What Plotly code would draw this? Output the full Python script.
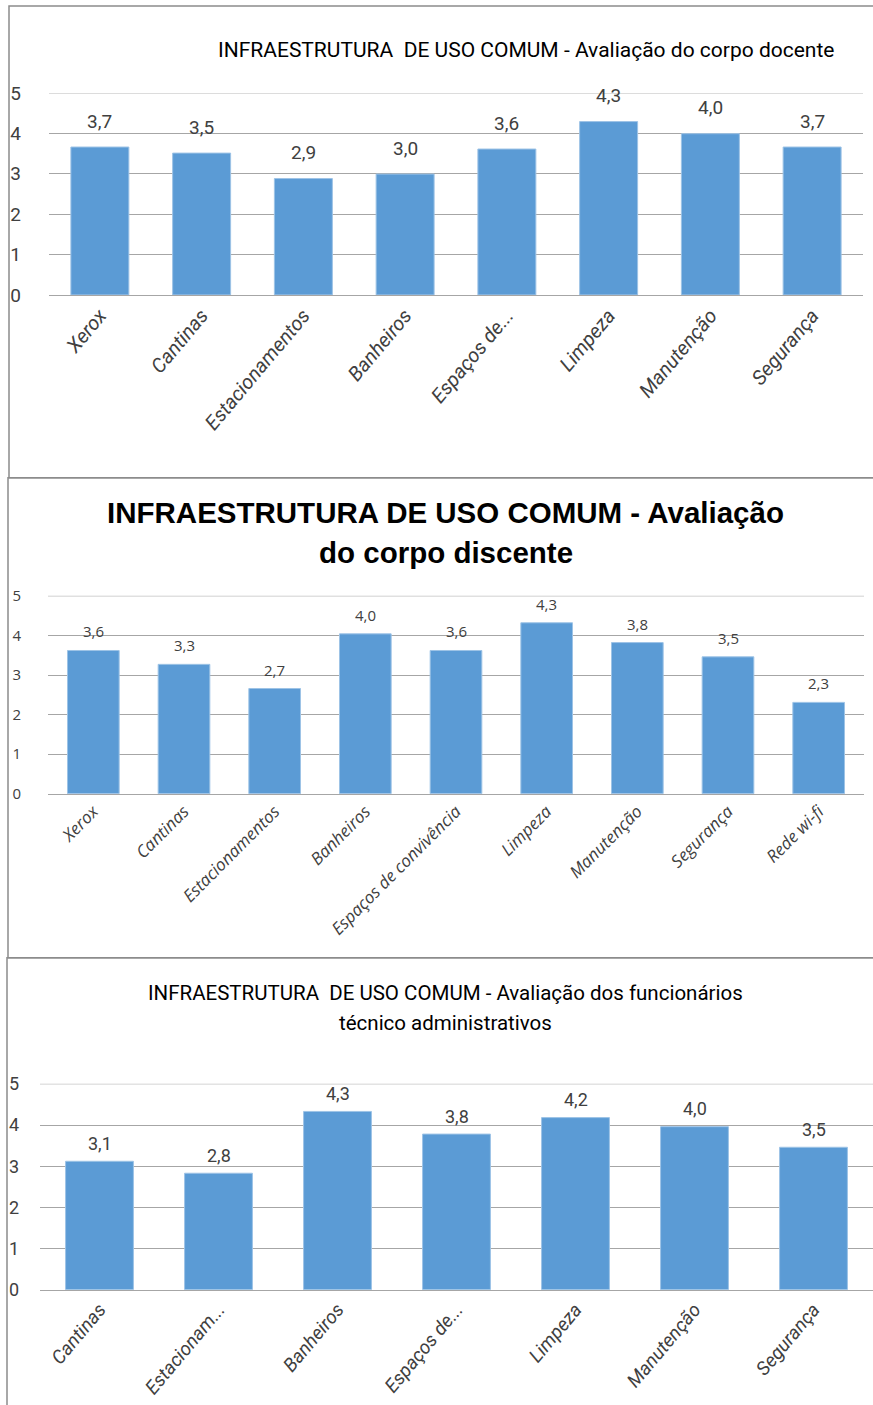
import plotly.graph_objects as go

W, H = 873, 1405
BAR = "#5B9BD5"
GRID = "#A6A6A6"
TXT = "#404040"
NARROW = "Roboto, Liberation Sans, sans-serif"
NORMAL = "Open Sans, Liberation Sans, sans-serif"

# painel 1 - corpo docente
cat_docente = ["Xerox", "Cantinas", "Estacionamentos", "Banheiros", "Espaços de...",
               "Limpeza", "Manutenção", "Segurança"]
val_docente = [3.66, 3.51, 2.88, 2.99, 3.61, 4.29, 3.99, 3.66]

# painel 2 - corpo discente
cat_discente = ["Xerox", "Cantinas", "Estacionamentos", "Banheiros", "Espaços de convivência",
                "Limpeza", "Manutenção", "Segurança", "Rede wi-fi"]
val_discente = [3.62, 3.27, 2.66, 4.04, 3.62, 4.32, 3.82, 3.46, 2.31]

# painel 3 - técnico administrativos
cat_tecnico = ["Cantinas", "Estacionam...", "Banheiros", "Espaços de...", "Limpeza",
               "Manutenção", "Segurança"]
val_tecnico = [3.12, 2.83, 4.33, 3.78, 4.18, 3.96, 3.46]

y_ticks = [0, 1, 2, 3, 4, 5]


def fmt(v):
    return f"{v:.1f}".replace(".", ",")


def yfix(py):
    # compensa o pequeno encolhimento vertical observado na captura
    return (py - 11.1) / 0.9837


def py2paper(py):
    return 1 - yfix(py) / H


def px_x(a, b):
    return [a / W, b / W]


def px_y(top, bottom):
    return [py2paper(bottom), py2paper(top)]


panels = [
    dict(cats=cat_docente, vals=val_docente, xd=px_x(49, 863), yd=px_y(93, 295),
         font=NARROW, tsize=19, lsize=20, angle=-50, vsize=19, standoff=27, gap=26),
    dict(cats=cat_discente, vals=val_discente, xd=px_x(48, 864), yd=px_y(596, 794),
         font=NORMAL, tsize=15, lsize=17, angle=-45, vsize=15, standoff=26, gap=19),
    dict(cats=cat_tecnico, vals=val_tecnico, xd=px_x(40, 873), yd=px_y(1084, 1290),
         font=NARROW, tsize=18, lsize=19, angle=-50, vsize=18, standoff=20, gap=18),
]

fig = go.Figure()
layout = {}
for i, p in enumerate(panels, start=1):
    xa = "x" if i == 1 else f"x{i}"
    ya = "y" if i == 1 else f"y{i}"
    fig.add_trace(go.Bar(
        x=p["cats"], y=p["vals"], xaxis=xa, yaxis=ya,
        marker=dict(color=BAR, line=dict(color="#9DC3E6", width=1)),
        width=0.57, showlegend=False, hoverinfo="x+y",
    ))
    # rótulos de valor acima das barras
    for c, v in zip(p["cats"], p["vals"]):
        fig.add_annotation(x=c, y=v, xref=xa, yref=ya, text=fmt(v),
                           showarrow=False, yanchor="middle", yshift=p["gap"],
                           font=dict(family=p["font"], size=p["vsize"], color=TXT))
    # linha de grade do topo (plotly omite a da borda)
    fig.add_shape(type="line", xref=f"{xa} domain", yref=ya, x0=0, x1=1, y0=5, y1=5,
                  line=dict(color=GRID, width=1), layer="below")
    layout[f"xaxis{'' if i == 1 else i}"] = dict(
        domain=p["xd"], anchor=ya, type="category",
        tickangle=p["angle"], showgrid=False, showline=True, linecolor=GRID,
        ticks="", tickfont=dict(family=p["font"], size=p["lsize"], color=TXT, style="italic"),
    )
    layout[f"yaxis{'' if i == 1 else i}"] = dict(
        domain=p["yd"], anchor=xa, range=[0, 5], tickvals=y_ticks,
        showgrid=True, gridcolor=GRID, gridwidth=1, zeroline=False,
        showline=False, ticks="", ticklabelstandoff=p["standoff"],
        tickfont=dict(family=p["font"], size=p["tsize"], color=TXT),
    )

fig.update_layout(
    width=W, height=H, margin=dict(l=0, r=0, t=0, b=0),
    paper_bgcolor="white", plot_bgcolor="white",
    **layout,
)

# títulos (uma anotação por linha)
titles = [
    ("INFRAESTRUTURA  DE USO COMUM - Avaliação do corpo docente", 526, 50, NARROW, 21, False),
    ("INFRAESTRUTURA DE USO COMUM - Avaliação", 446, 513, "Liberation Sans, sans-serif", 29.5, True),
    ("do corpo discente", 446, 553, "Liberation Sans, sans-serif", 29.5, True),
    ("INFRAESTRUTURA  DE USO COMUM - Avaliação dos funcionários", 446, 993, NARROW, 20.5, False),
    ("técnico administrativos", 446, 1023, NARROW, 20.5, False),
]
for text, cx, cy, fam, size, bold in titles:
    fig.add_annotation(text=f"<b>{text}</b>" if bold else text,
                       x=cx / W, y=py2paper(cy), xref="paper", yref="paper",
                       showarrow=False, xanchor="center", yanchor="middle",
                       font=dict(family=fam, size=size, color="black"))

# molduras dos painéis
for x0, y0, y1 in [(9, 6, 478), (8, 478, 958), (7, 958, 1430)]:
    fig.add_shape(type="rect", xref="paper", yref="paper",
                  x0=x0 / W, x1=1.01, y0=py2paper(y1), y1=py2paper(y0),
                  line=dict(color="#8C8C8C", width=1.5), layer="below")

fix_page = (
    "document.body.style.margin='0';document.body.style.overflow='hidden';"
    "var d=document.getElementById('{plot_id}');"
    "d.style.position='fixed';d.style.top='0px';d.style.left='0px';"
)
fig.write_html("out.html", config={"displayModeBar": False}, post_script=fix_page)
